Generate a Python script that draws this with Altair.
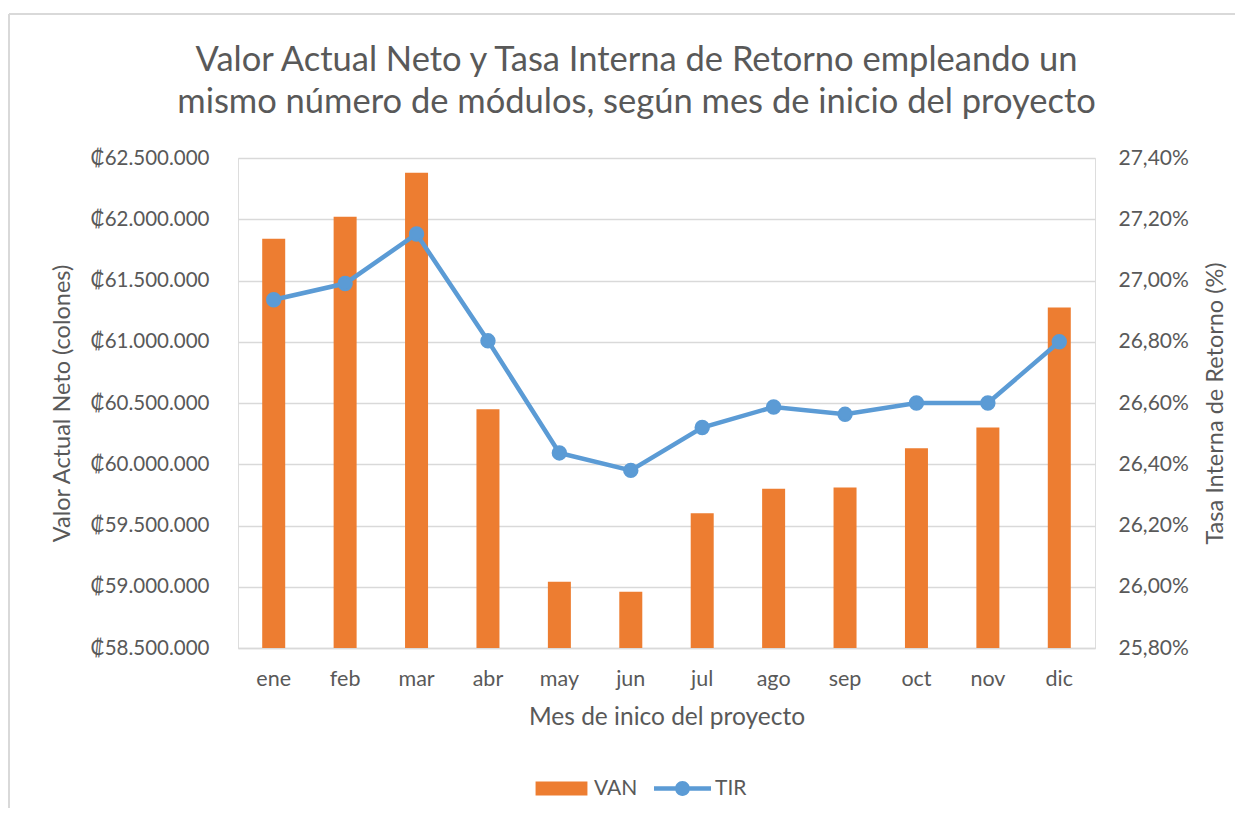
import altair as alt
import pandas as pd

meses = ["ene", "feb", "mar", "abr", "may", "jun", "jul", "ago", "sep", "oct", "nov", "dic"]
van = [61840000, 62020000, 62380000, 60450000, 59040000, 58960000,
       59600000, 59800000, 59810000, 60130000, 60300000, 61280000]
tir = [26.937, 26.990, 27.152, 26.803, 26.437, 26.380,
       26.520, 26.587, 26.563, 26.600, 26.600, 26.800]

colores = {"VAN": "#ED7D31", "TIR": "#5B9BD5"}
y_left_ticks = [58500000 + 500000 * i for i in range(9)]
y_right_ticks = [25.8, 26.0, 26.2, 26.4, 26.6, 26.8, 27.0, 27.2, 27.4]

df = pd.DataFrame({"mes": meses, "van": van, "tir": tir})

FONT = "Lato"
TXT = "#595959"
GRID = "#D9D9D9"

W, H = 857, 490

x_enc = alt.X(
    "mes:N", sort=meses,
    scale=alt.Scale(paddingInner=0, paddingOuter=0),
    axis=alt.Axis(
        title="Mes de inico del proyecto", labelAngle=0, ticks=False,
        domainColor=GRID, domainWidth=1.5, labelPadding=20,
        labelFontSize=21.5, labelColor=TXT, labelFont=FONT,
        titleFontSize=24.5, titleColor=TXT, titleFont=FONT, titleFontWeight="normal",
        titleY=76, titleBaseline="alphabetic", grid=False,
    ),
)

van_path = "M-0.91,-0.245H0.91V0.245H-0.91Z"
tir_path = ("M-1,-0.075H1V0.075H-1Z"
            "M0.26,0A0.26,0.26,0,1,1,-0.26,0A0.26,0.26,0,1,1,0.26,0Z")

legend_van = alt.Legend(
    title=None, orient="none", direction="horizontal",
    legendX=295, legendY=602, padding=0,
    symbolType=van_path, symbolSize=3249, symbolStrokeWidth=0,
    labelOffset=4, labelFontSize=21, labelColor=TXT, labelFont=FONT,
)
legend_tir = alt.Legend(
    title=None, orient="none", direction="horizontal",
    legendX=416, legendY=602, padding=0,
    symbolType=tir_path, symbolSize=3249, symbolStrokeWidth=0,
    symbolFillColor=colores["TIR"],
    labelOffset=4, labelFontSize=21, labelColor=TXT, labelFont=FONT,
)

bars = alt.Chart(df).mark_bar(size=23, clip=True).encode(
    x=x_enc,
    y=alt.Y(
        "van:Q",
        scale=alt.Scale(domain=[58500000, 62500000], nice=False, zero=False),
        axis=alt.Axis(
            values=y_left_ticks, title="Valor Actual Neto (colones)",
            labelExpr="'₡' + replace(format(datum.value, ',.0f'), regexp(',', 'g'), '.')",
            ticks=False, domain=False, labelPadding=29,
            labelFontSize=20.5, labelColor=TXT, labelFont=FONT,
            grid=True, gridColor=GRID, gridWidth=1.5,
            titleFontSize=23.5, titleColor=TXT, titleFont=FONT, titleFontWeight="normal",
            titleAngle=270, titleX=-176, titleY=H / 2, titleAlign="center",
            titleBaseline="middle",
        ),
    ),
    color=alt.Color(
        "serie:N",
        scale=alt.Scale(domain=["VAN"], range=[colores["VAN"]]),
        legend=legend_van,
    ),
).transform_calculate(serie="'VAN'")

line = alt.Chart(df).mark_line(
    strokeWidth=4.5,
    point=alt.OverlayMarkDef(size=180, filled=True, color=colores["TIR"], opacity=1),
).encode(
    x=alt.X("mes:N", sort=meses),
    y=alt.Y(
        "tir:Q",
        scale=alt.Scale(domain=[25.8, 27.4], nice=False, zero=False),
        axis=alt.Axis(
            orient="right", values=y_right_ticks, title="Tasa Interna de Retorno (%)",
            labelExpr="replace(format(datum.value, '.2f'), '.', ',') + '%'",
            ticks=False, domain=False, grid=False, labelPadding=23,
            labelFontSize=21, labelColor=TXT, labelFont=FONT,
            titleFontSize=23.5, titleColor=TXT, titleFont=FONT, titleFontWeight="normal",
            titleAngle=270, titleX=120, titleY=H / 2, titleAlign="center",
            titleBaseline="middle",
        ),
    ),
    stroke=alt.Stroke(
        "serie_t:N",
        scale=alt.Scale(domain=["TIR"], range=[colores["TIR"]]),
        legend=legend_tir,
    ),
).transform_calculate(serie_t="'TIR'")

frame_data = alt.Data(values=[{"k": 1}])
frame_top = alt.Chart(frame_data).mark_rule(color=GRID, strokeWidth=2).encode(
    x=alt.value(-229), x2=alt.value(1200), y=alt.value(-144)
)
frame_left = alt.Chart(frame_data).mark_rule(color=GRID, strokeWidth=2).encode(
    x=alt.value(-229), y=alt.value(-144), y2=alt.value(700)
)

chart = alt.layer(frame_top, frame_left, bars, line).resolve_scale(
    y="independent"
).properties(
    width=W, height=H,
    title=alt.TitleParams(
        text=["Valor Actual Neto y Tasa Interna de Retorno empleando un",
              "mismo número de módulos, según mes de inicio del proyecto"],
        fontSize=34.5, font=FONT, color=TXT, fontWeight="normal",
        anchor="middle", dx=-30, dy=107, offset=0, lineHeight=42,
    ),
    autosize=alt.AutoSizeParams(type="none"),
    padding={"left": 230, "top": 150, "right": 140, "bottom": 160},
).configure_view(stroke=None).configure(background="white")

chart.save("out.html", embed_options={"renderer": "svg", "actions": False})
